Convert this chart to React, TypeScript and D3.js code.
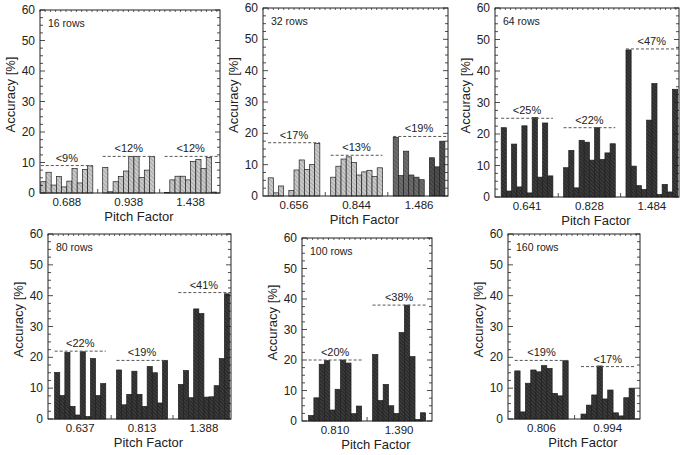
import React from "react";
import * as d3 from "d3";

// ---------- data ----------
const panelTitles = ["16 rows", "32 rows", "64 rows", "80 rows", "100 rows", "160 rows"];

const pitch16 = ["0.688", "0.938", "1.438"];
const pitch32 = ["0.656", "0.844", "1.486"];
const pitch64 = ["0.641", "0.828", "1.484"];
const pitch80 = ["0.637", "0.813", "1.388"];
const pitch100 = ["0.810", "1.390"];
const pitch160 = ["0.806", "0.994"];

const acc16 = [
  [3.7, 6.8, 2.6, 5.4, 2.0, 3.9, 8.0, 3.3, 7.7, 8.9],
  [8.4, 0.4, 3.7, 5.4, 7.2, 12.0, 12.0, 5.1, 7.5, 11.9],
  [0.2, 4.3, 5.5, 5.5, 4.3, 10.3, 11.0, 8.0, 11.7, 0.3],
];
const acc32 = [
  [5.8, 1.0, 3.2, 0, 1.8, 8.3, 11.5, 8.5, 10.0, 16.8],
  [6.0, 9.5, 11.8, 12.5, 10.7, 6.7, 7.7, 8.2, 6.2, 9.0],
  [18.7, 6.5, 14.3, 6.7, 6.0, 5.2, 0, 12.2, 9.3, 17.5],
];
const acc64 = [
  [22.0, 1.9, 16.8, 3.2, 22.6, 1.3, 25.2, 6.3, 23.5, 6.7],
  [9.3, 14.8, 2.9, 18.0, 17.4, 11.7, 22.0, 11.9, 14.0, 16.9],
  [46.7, 9.8, 3.6, 2.4, 24.4, 36.0, 0.8, 4.0, 1.6, 34.2],
];
const acc80 = [
  [15.1, 7.6, 21.6, 4.1, 1.3, 21.8, 0.8, 19.6, 7.6, 11.5],
  [15.9, 4.6, 8.0, 15.5, 8.0, 4.1, 17.0, 15.0, 5.2, 19.0],
  [11.2, 15.7, 6.9, 35.7, 34.2, 7.1, 7.2, 10.8, 19.6, 40.6],
];
const acc100 = [
  [1.8, 7.6, 18.6, 19.8, 3.6, 10.4, 20.0, 19.0, 2.4, 4.9],
  [21.8, 6.7, 12.0, 5.0, 2.5, 29.0, 38.0, 21.1, 0.5, 2.7],
];
const acc160 = [
  [15.6, 2.3, 11.6, 15.9, 15.3, 17.3, 16.4, 8.3, 7.5, 18.9],
  [1.6, 4.5, 7.8, 17.2, 6.5, 9.4, 2.0, 1.0, 6.9, 10.0],
];

const limit16 = [9, 12, 12];
const limit32 = [17, 13, 19];
const limit64 = [25, 22, 47];
const limit80 = [22, 19, 41];
const limit100 = [20, 38];
const limit160 = [19, 17];

const yTickValues = [0, 10, 20, 30, 40, 50, 60];

const panelsData = [
  { title: panelTitles[0], pitch: pitch16, acc: acc16, limit: limit16 },
  { title: panelTitles[1], pitch: pitch32, acc: acc32, limit: limit32 },
  { title: panelTitles[2], pitch: pitch64, acc: acc64, limit: limit64 },
  { title: panelTitles[3], pitch: pitch80, acc: acc80, limit: limit80 },
  { title: panelTitles[4], pitch: pitch100, acc: acc100, limit: limit100 },
  { title: panelTitles[5], pitch: pitch160, acc: acc160, limit: limit160 },
];

// ---------- layout / style ----------
const layout = [
  { left: 40, right: 220, top: 10, bottom: 193, pad: 0.15, step: 11.9, max: 34.6 },
  { left: 263, right: 448, top: 8, bottom: 196, pad: 1.0, step: 12.1, max: 35.8 },
  { left: 495, right: 679, top: 8, bottom: 197, pad: 1.2, step: 12.07, max: 35.6 },
  { left: 48, right: 231, top: 234, bottom: 419, pad: 1.3, step: 12.1, max: 35.8 },
  { left: 302, right: 432, top: 238, bottom: 421, pad: 1.24, step: 12.06, max: 24.5 },
  { left: 508, right: 640, top: 234, bottom: 419, pad: 1.26, step: 12.4, max: 24.7 },
];

function shadeFor(p: number, g: number, b: number): string {
  if (p === 0) return "light";
  if (p === 1) {
    if (g < 2) return "light";
    return b >= 7 ? "midDark" : "mid";
  }
  return "dark";
}

const FONT = "'Liberation Sans', Arial, Helvetica, sans-serif";
const TXT = "#222";

function Panel({ idx }: { idx: number }) {
  const d = panelsData[idx];
  const L = layout[idx];
  const x = d3.scaleLinear().domain([0, L.max]).range([L.left, L.right]);
  const y = d3.scaleLinear().domain([0, 60]).range([L.bottom, L.top]);
  const nb = 10;
  const G = d.acc.length;
  const gStart = (g: number) => L.pad + g * L.step;
  const minor = d3.range(0, 60.001, 2.5);
  const topTicks = x.ticks(30);
  const gapTicks = d3.range(G - 1).map((g) => gStart(g) + nb + (L.step - nb) / 2);
  const cx = (L.left + L.right) / 2;
  const cy = (L.top + L.bottom) / 2;

  return (
    <g>
      {d.acc.map((vals, g) =>
        vals.map((v, b) => {
          const x0 = x(gStart(g) + b);
          const x1 = x(gStart(g) + b + 1);
          return (
            <rect
              key={`b${g}-${b}`}
              x={x0}
              y={y(v)}
              width={x1 - x0}
              height={y(0) - y(v)}
              fill={`url(#hatch-${shadeFor(idx, g, b)})`}
              stroke="#1e1e1e"
              strokeWidth={0.7}
            />
          );
        })
      )}
      {d.limit.map((lv, g) => {
        const s = gStart(g);
        let e = s + nb;
        if (G === 3 && g === 2) e = L.max;
        return (
          <g key={`l${g}`}>
            <line
              x1={x(s)}
              x2={x(e)}
              y1={y(lv)}
              y2={y(lv)}
              stroke="#555"
              strokeWidth={1}
              strokeDasharray="3,2"
            />
            <text
              x={x(s + nb / 2)}
              y={y(lv) - 4}
              textAnchor="middle"
              fontSize={11}
              fontFamily={FONT}
              fill={TXT}
            >
              {`<${lv}%`}
            </text>
          </g>
        );
      })}
      <rect
        x={L.left}
        y={L.top}
        width={L.right - L.left}
        height={L.bottom - L.top}
        fill="none"
        stroke="#222"
        strokeWidth={1}
      />
      {minor.map((t) => {
        const major = t % 10 === 0;
        const len = major ? 5 : 3;
        return (
          <g key={`yt${t}`}>
            <line x1={L.left} x2={L.left + len} y1={y(t)} y2={y(t)} stroke="#222" strokeWidth={0.8} />
            <line x1={L.right} x2={L.right - len} y1={y(t)} y2={y(t)} stroke="#222" strokeWidth={0.8} />
          </g>
        );
      })}
      {yTickValues.map((t) => (
        <text
          key={`yl${t}`}
          x={L.left - 5}
          y={y(t) + 4}
          textAnchor="end"
          fontSize={12}
          fontFamily={FONT}
          fill={TXT}
        >
          {t}
        </text>
      ))}
      {topTicks.map((t) => (
        <line key={`tt${t}`} x1={x(t)} x2={x(t)} y1={L.top} y2={L.top + 2} stroke="#222" strokeWidth={0.7} />
      ))}
      {gapTicks.map((t) => (
        <line key={`gt${t}`} x1={x(t)} x2={x(t)} y1={L.bottom} y2={L.bottom - 4} stroke="#222" strokeWidth={0.8} />
      ))}
      {d.pitch.map((p, g) => (
        <text
          key={`xl${g}`}
          x={x(gStart(g) + nb / 2)}
          y={L.bottom + 13}
          textAnchor="middle"
          fontSize={11.5}
          fontFamily={FONT}
          fill={TXT}
        >
          {p}
        </text>
      ))}
      <text x={L.left + 8} y={L.top + 17} fontSize={10.5} fontFamily={FONT} fill={TXT}>
        {d.title}
      </text>
      <text
        x={cx + 9}
        y={L.bottom + 28}
        textAnchor="middle"
        fontSize={13}
        fontFamily={FONT}
        fill={TXT}
      >
        Pitch Factor
      </text>
      <text
        transform={`translate(${L.left - 25},${cy - 7}) rotate(-90)`}
        textAnchor="middle"
        fontSize={13}
        fontFamily={FONT}
        fill={TXT}
      >
        Accuracy [%]
      </text>
    </g>
  );
}

function Hatch({ id, bg, fg, size, sw }: { id: string; bg: string; fg: string; size: number; sw: number }) {
  return (
    <pattern id={id} patternUnits="userSpaceOnUse" width={size} height={size} patternTransform="rotate(-45)">
      <rect width={size} height={size} fill={bg} />
      <line x1={0} y1={0} x2={0} y2={size} stroke={fg} strokeWidth={sw} />
    </pattern>
  );
}

export default function App() {
  return (
    <svg
      width={685}
      height={455}
      style={{ position: "absolute", left: 0, top: 0, background: "#fff" }}
    >
      <defs>
        <Hatch id="hatch-light" bg="#cbcbcb" fg="#858585" size={3} sw={1} />
        <Hatch id="hatch-mid" bg="#6e6e6e" fg="#444" size={3} sw={1} />
        <Hatch id="hatch-midDark" bg="#505050" fg="#2a2a2a" size={3} sw={1} />
        <Hatch id="hatch-dark" bg="#2c2c2c" fg="#5c5c5c" size={2.6} sw={0.8} />
      </defs>
      <rect width={685} height={455} fill="#fff" />
      {panelsData.map((_, i) => (
        <Panel key={i} idx={i} />
      ))}
    </svg>
  );
}
